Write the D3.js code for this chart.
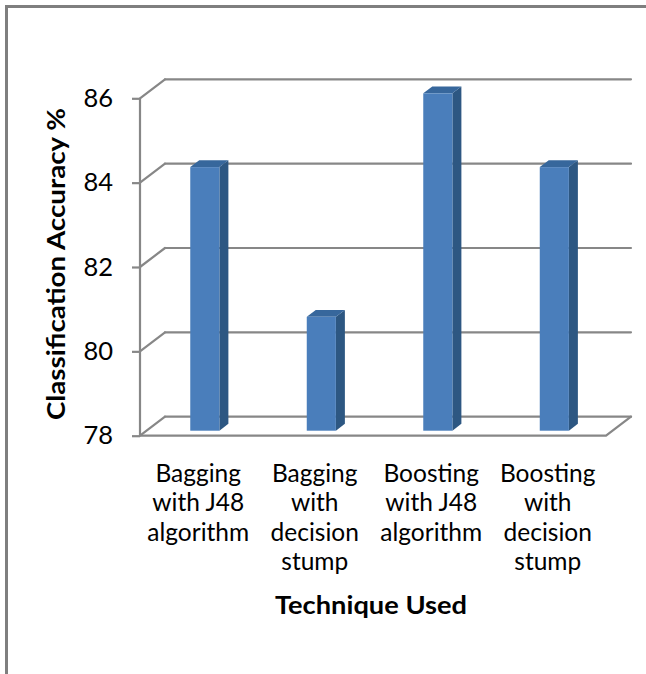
<!DOCTYPE html>
<html>
<head>
<meta charset="utf-8">
<script src="https://cdn.jsdelivr.net/npm/d3@7"></script>
<style>
  html, body { margin: 0; padding: 0; background: #fff; }
  svg { display: block; }
  text { font-family: Lato, "Open Sans", sans-serif; fill: #000; }
</style>
</head>
<body>
<svg id="chart" width="646" height="674"></svg>
<script>
// Chart data
const categories = [
  ["Bagging", "with J48", "algorithm"],
  ["Bagging", "with", "decision", "stump"],
  ["Boosting", "with J48", "algorithm"],
  ["Boosting", "with", "decision", "stump"]
];
const accuracy = [84.25, 80.7, 86.0, 84.25];
const yTicks = [78, 80, 82, 84, 86];
const yTitle = "Classification Accuracy %";
const xTitle = "Technique Used";

const svg = d3.select("#chart");

// Plot frame (front plane) and 3-D depth offset
const plotLeft = 140, plotRight = 606, plotTop = 98.3, plotBottom = 435.7;
const depthX = 25, depthY = -19;
// bars sit part way into the depth
const barFront = 0.263, barDepth = 0.36;

const x = d3.scaleBand()
  .domain(d3.range(categories.length))
  .range([plotLeft, plotRight])
  .paddingInner(0.75)
  .paddingOuter(0.375);

const y = d3.scaleLinear().domain([78, 86]).range([plotBottom, plotTop]);

const gridColor = "#878787";

// Outer chart border
svg.append("path")
  .attr("d", "M6.5,680 L6.5,6.5 L660,6.5")
  .attr("fill", "none")
  .attr("stroke", "#7f7f7f")
  .attr("stroke-width", 3);

const grid = svg.append("g")
  .attr("fill", "none")
  .attr("stroke", gridColor)
  .attr("stroke-width", 2.2)
  .attr("stroke-linecap", "round");

// Back wall gridlines and side wall diagonals
yTicks.forEach(t => {
  const yy = y(t);
  grid.append("line")
    .attr("x1", plotLeft + depthX).attr("y1", yy + depthY)
    .attr("x2", plotRight + depthX).attr("y2", yy + depthY);
  grid.append("line")
    .attr("x1", plotLeft).attr("y1", yy)
    .attr("x2", plotLeft + depthX).attr("y2", yy + depthY);
});

// Floor: front edge and right edge
grid.append("path")
  .attr("d", `M${plotLeft},${plotBottom} L${plotRight},${plotBottom} L${plotRight + depthX},${plotBottom + depthY}`);

// Front vertical axis with ticks
const axis = svg.append("g")
  .attr("transform", `translate(${plotLeft},0)`)
  .call(d3.axisLeft(y).tickValues(yTicks).tickSize(8).tickPadding(19).tickFormat(d3.format("d")));
axis.select(".domain")
  .attr("stroke", gridColor).attr("stroke-width", 2.2)
  .attr("d", `M0,${plotTop}V${plotBottom}`);
axis.selectAll(".tick line").attr("stroke", gridColor).attr("stroke-width", 2.2);
axis.selectAll(".tick text")
  .style("font-family", "Lato, sans-serif")
  .style("font-size", "25.5px")
  .attr("fill", "#000");

// 3-D bars
const bars = svg.append("g");
accuracy.forEach((v, i) => {
  const bw = x.bandwidth();
  const fx = x(i) + barFront * depthX;
  const fyB = y(78) + barFront * depthY;
  const fyT = y(v) + barFront * depthY;
  const dx = barDepth * depthX, dy = barDepth * depthY;
  const g = bars.append("g");
  // side face
  g.append("path")
    .attr("d", `M${fx + bw},${fyB} L${fx + bw + dx},${fyB + dy} L${fx + bw + dx},${fyT + dy} L${fx + bw},${fyT} Z`)
    .attr("fill", "#2d5782");
  // top face
  g.append("path")
    .attr("d", `M${fx},${fyT} L${fx + dx},${fyT + dy} L${fx + bw + dx},${fyT + dy} L${fx + bw},${fyT} Z`)
    .attr("fill", "#37679c");
  // front face
  g.append("rect")
    .attr("x", fx).attr("y", fyT)
    .attr("width", bw).attr("height", fyB - fyT)
    .attr("fill", "#4a7ebb");
});

// Category labels
const labels = svg.append("g")
  .attr("text-anchor", "middle")
  .style("font-size", "24.5px");
categories.forEach((lines, i) => {
  const t = labels.append("text")
    .attr("x", x(i) + x.bandwidth() / 2)
    .attr("y", 481.7)
    .attr("fill", "#1a1a1a");
  lines.forEach((s, k) => {
    t.append("tspan")
      .attr("x", x(i) + x.bandwidth() / 2)
      .attr("dy", k === 0 ? 0 : 29.4)
      .text(s);
  });
});

// Axis titles
svg.append("text")
  .attr("x", 371).attr("y", 614.3)
  .attr("text-anchor", "middle")
  .attr("textLength", 192)
  .attr("lengthAdjust", "spacingAndGlyphs")
  .style("font-size", "24px")
  .style("font-weight", "bold")
  .text(xTitle);

svg.append("text")
  .attr("transform", "translate(65,264) rotate(-90)")
  .attr("text-anchor", "middle")
  .attr("textLength", 312)
  .attr("lengthAdjust", "spacingAndGlyphs")
  .style("font-size", "24px")
  .style("font-weight", "bold")
  .text(yTitle);
</script>
</body>
</html>
